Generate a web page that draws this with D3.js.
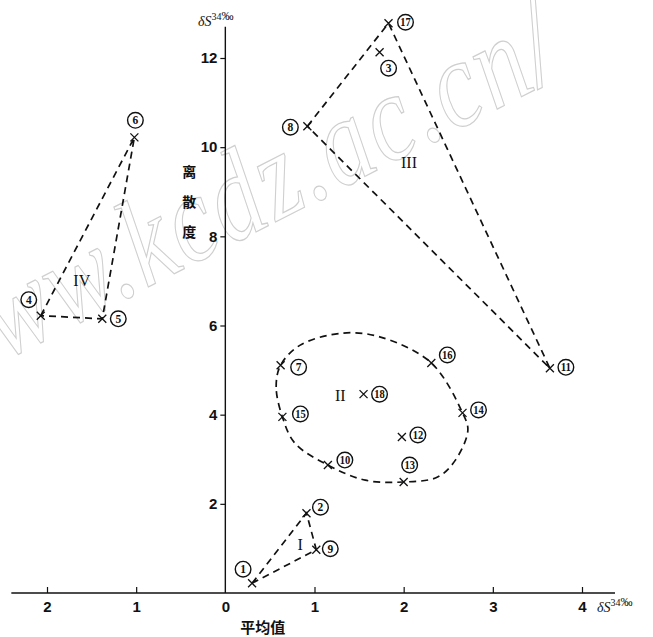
<!DOCTYPE html>
<html><head><meta charset="utf-8">
<script src="https://cdn.jsdelivr.net/npm/d3@7"></script>
<style>html,body{margin:0;padding:0;background:#fff;}</style>
</head><body>
<script>
// ---- data ----
const sampleIds   = [1, 2, 9, 4, 5, 6, 17, 3, 8, 11, 7, 15, 18, 16, 14, 12, 10, 13];
const meanValues  = [0.30, 0.91, 1.02, -2.07, -1.38, -1.02, 1.83, 1.73, 0.92, 3.64, 0.62, 0.64, 1.55, 2.31, 2.66, 1.98, 1.15, 2.00];
const dispersion  = [0.22, 1.79, 0.97, 6.22, 6.15, 10.22, 12.78, 12.13, 10.47, 5.04, 5.11, 3.95, 4.46, 5.16, 4.04, 3.50, 2.87, 2.49];
const groupI   = [1, 2, 9];
const groupIII = [8, 17, 11];
const groupIV  = [4, 6, 5];
const groupIIOutlineX = [0.64, 0.57, 0.62, 0.84, 1.32, 1.74, 2.31, 2.66, 2.72, 2.58, 2.38, 2.00, 1.57, 1.15, 0.78];
const groupIIOutlineY = [3.95, 4.62, 5.11, 5.56, 5.83, 5.74, 5.16, 4.04, 3.65, 2.98, 2.60, 2.49, 2.53, 2.87, 3.36];
const groupNames  = ["I", "II", "III", "IV"];
const groupNameX  = [0.84, 1.29, 2.06, -1.61];
const groupNameY  = [1.08, 4.44, 9.65, 7.02];
const xTicks = [-2, -1, 0, 1, 2, 3, 4];
const yTicks = [2, 4, 6, 8, 10, 12];
const yAxisLabel = ["离", "散", "度"];
const xAxisLabel = "平均值";

// ---- layout (pixel offsets of circled labels from their marks) ----
const labelOffset = {1:[-9,-14],2:[14,-6],9:[14,-1],4:[-12,-16],5:[16,0],6:[1,-17],17:[17,-1],3:[9,16],8:[-17,1],
  11:[16,-1],7:[18,2],15:[18,-3],18:[16,0],16:[16,-8],14:[16,-3],12:[16,-2],10:[17,-5],13:[6,-17]};

const W = 653, H = 637;
const svg = d3.select("body").append("svg").attr("width", W).attr("height", H)
  .style("font-family", "'Liberation Serif','DejaVu Serif',serif");

const x = d3.scaleLinear().domain([-2, 4]).range([47, 582]);
const y = d3.scaleLinear().domain([0, 12]).range([593, 58]);

// watermark
svg.append("text")
  .attr("transform", `translate(-58,392) rotate(-27) scale(1,1.25)`)
  .attr("textLength", 700).attr("lengthAdjust", "spacing")
  .style("font-size", "100px").style("font-style", "italic")
  .style("fill", "none").style("stroke", "#cfcfcf").style("stroke-width", 1)
  .text("www.kcdz.ac.cn/");

const ink = "#111";

// axes lines
svg.append("line").attr("x1", x(-2.4)).attr("x2", x(4.37)).attr("y1", y(0)).attr("y2", y(0))
  .attr("stroke", ink).attr("stroke-width", 1.4);
svg.append("line").attr("x1", x(0)).attr("x2", x(0)).attr("y1", y(0)).attr("y2", y(12.7))
  .attr("stroke", ink).attr("stroke-width", 1.4);

// x axis ticks
const xa = svg.append("g").attr("transform", `translate(0,${y(0)})`)
  .call(d3.axisBottom(x).tickValues(xTicks).tickSizeInner(-6).tickSizeOuter(0).tickPadding(5)
    .tickFormat(d => String(Math.abs(d))));
xa.select(".domain").remove();
xa.selectAll(".tick line").attr("stroke", ink).attr("stroke-width", 1.2).filter(d => d === 0).remove();
xa.selectAll("text").style("font-size", "15px").style("font-weight", "bold").attr("fill", ink)
  .attr("dy", "0.9em");

// y axis ticks
const ya = svg.append("g").attr("transform", `translate(${x(0)},0)`)
  .call(d3.axisLeft(y).tickValues(yTicks).tickSizeInner(5).tickSizeOuter(0).tickPadding(3));
ya.select(".domain").remove();
ya.selectAll(".tick line").attr("stroke", ink).attr("stroke-width", 1.2);
ya.selectAll("text").style("font-size", "15px").style("font-weight", "bold").attr("fill", ink);

// axis titles
function dS(g, px, py) {
  const t = g.append("text").attr("x", px).attr("y", py).attr("fill", ink).style("font-size", "14px").style("font-style", "italic");
  t.append("tspan").text("δS");
  t.append("tspan").attr("dy", -6).style("font-size", "10px").style("font-style", "normal").text("34");
  t.append("tspan").style("font-size", "12px").style("font-style", "normal").text("‰");
}
dS(svg, 597, 612);
dS(svg, 198, 26);

svg.selectAll(".ylab").data(yAxisLabel).enter().append("text")
  .attr("x", x(0) - 36).attr("y", (d, i) => y(9.44) + i * 30)
  .attr("text-anchor", "middle").attr("dy", "0.35em")
  .style("font-family", "'Noto Sans CJK SC',sans-serif").style("font-size", "14px").style("font-weight", "bold")
  .attr("fill", ink).text(d => d);

svg.append("text").attr("x", x(0.42)).attr("y", y(0) + 35).attr("text-anchor", "middle").attr("dy", "0.35em")
  .style("font-family", "'Noto Sans CJK SC',sans-serif").style("font-size", "15px").style("font-weight", "bold")
  .attr("fill", ink).text(xAxisLabel);

// points lookup
const pts = sampleIds.map((id, i) => ({id, mx: meanValues[i], dv: dispersion[i]}));
const byId = Object.fromEntries(pts.map(p => [p.id, p]));

const dashStyle = s => s.attr("fill", "none").attr("stroke", ink).attr("stroke-width", 1.7).attr("stroke-dasharray", "7,5");

// group polygons
const line = d3.line().x(p => x(p.mx)).y(p => y(p.dv));
[groupI, groupIII, groupIV].forEach(g => {
  const ps = g.map(id => byId[id]);
  svg.append("path").attr("d", line(ps) + "Z").call(dashStyle);
});

// group II closed curve
const outline = groupIIOutlineX.map((v, i) => ({mx: v, dv: groupIIOutlineY[i]}));
svg.append("path").attr("d", d3.line().x(p => x(p.mx)).y(p => y(p.dv)).curve(d3.curveCatmullRomClosed.alpha(0.5))(outline))
  .call(dashStyle);

// markers
const mk = svg.selectAll(".mk").data(pts).enter().append("g")
  .attr("transform", p => `translate(${x(p.mx)},${y(p.dv)})`);
mk.append("path").attr("d", "M-4,-4L4,4M-4,4L4,-4").attr("stroke", ink).attr("stroke-width", 1.3);

// circled labels
const lb = svg.selectAll(".lb").data(pts).enter().append("g")
  .attr("transform", p => `translate(${x(p.mx) + labelOffset[p.id][0]},${y(p.dv) + labelOffset[p.id][1]})`);
lb.append("circle").attr("r", 7.8).attr("fill", "#fff").attr("stroke", ink).attr("stroke-width", 1.4);
lb.append("text").attr("text-anchor", "middle").attr("dy", "0.36em").attr("fill", ink)
  .style("font-size", "11.5px").style("font-weight", "bold")
  .each(function(p) { if (p.id >= 10) d3.select(this).attr("textLength", 10.5).attr("lengthAdjust", "spacingAndGlyphs"); })
  .text(p => p.id);

// group names
svg.selectAll(".gn").data(groupNames).enter().append("text")
  .attr("x", (d, i) => x(groupNameX[i])).attr("y", (d, i) => y(groupNameY[i]))
  .attr("text-anchor", "middle").attr("dy", "0.35em").attr("fill", ink)
  .style("font-size", "16px").text(d => d);
</script>
</body></html>
